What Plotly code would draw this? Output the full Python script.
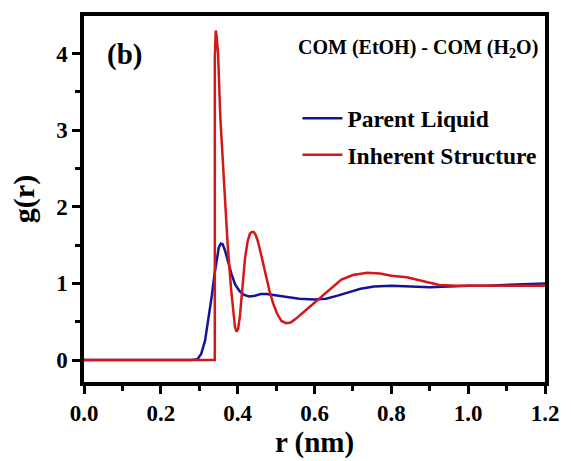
import plotly.graph_objects as go

# Parent liquid g(r)
r_parent = [0.0, 0.28, 0.295, 0.305, 0.315, 0.325, 0.333, 0.340, 0.346, 0.351, 0.356,
            0.361, 0.367, 0.375, 0.384, 0.394, 0.405, 0.417, 0.430, 0.445, 0.46,
            0.475, 0.49, 0.51, 0.53, 0.56, 0.60, 0.63, 0.66, 0.69, 0.72, 0.755,
            0.80, 0.85, 0.90, 0.95, 1.00, 1.05, 1.10, 1.15, 1.20]
g_parent = [0.0, 0.0, 0.01, 0.08, 0.25, 0.55, 0.85, 1.13, 1.35, 1.47, 1.52,
            1.51, 1.43, 1.28, 1.12, 0.98, 0.90, 0.85, 0.83, 0.84, 0.86,
            0.86, 0.85, 0.84, 0.82, 0.80, 0.79, 0.80, 0.84, 0.89, 0.93, 0.96,
            0.97, 0.96, 0.95, 0.96, 0.97, 0.97, 0.98, 0.99, 1.00]

# Inherent structure g(r)
r_inherent = [0.0, 0.3405, 0.3405, 0.3415, 0.343, 0.345, 0.349, 0.355, 0.365, 0.374,
              0.383, 0.389, 0.393, 0.397, 0.401, 0.406, 0.412, 0.419, 0.426, 0.432,
              0.437, 0.442, 0.447, 0.452, 0.459, 0.467, 0.475, 0.483, 0.493, 0.503,
              0.514, 0.526, 0.538, 0.552, 0.575, 0.610, 0.640, 0.670, 0.700, 0.737,
              0.770, 0.800, 0.840, 0.880, 0.925, 0.97, 1.05, 1.12, 1.20]
g_inherent = [0.0, 0.0, 3.95, 4.22, 4.30, 4.24, 4.00, 3.15, 2.32, 1.50,
              0.92, 0.58, 0.43, 0.37, 0.40, 0.58, 0.95, 1.32, 1.55, 1.65,
              1.67, 1.67, 1.63, 1.56, 1.42, 1.24, 1.07, 0.90, 0.73, 0.60,
              0.51, 0.48, 0.49, 0.54, 0.64, 0.79, 0.93, 1.05, 1.11, 1.14,
              1.13, 1.10, 1.08, 1.03, 0.98, 0.97, 0.97, 0.97, 0.97]

BLUE = "#14149a"
RED = "#d41818"
FONT = "Liberation Serif"

fig = go.Figure()
fig.add_trace(go.Scatter(x=r_parent, y=g_parent, mode="lines", name="Parent Liquid",
                         legendgroup="a", line=dict(color=BLUE, width=2.5)))
fig.add_trace(go.Scatter(x=r_inherent, y=g_inherent, mode="lines", name="Inherent Structure",
                         legendgroup="b", line=dict(color=RED, width=2.5)))

axis_common = dict(
    showline=True, linecolor="black", linewidth=3.5, mirror=True,
    ticks="outside", ticklen=8, tickwidth=3, tickcolor="black",
    showgrid=False, zeroline=False,
    tickfont=dict(family=FONT, size=23, color="black", weight="bold"),
)

fig.update_xaxes(
    range=[0, 1.2], tickvals=[0, 0.2, 0.4, 0.6, 0.8, 1.0, 1.2],
    ticktext=["0.0", "0.2", "0.4", "0.6", "0.8", "1.0", "1.2"],
    minor=dict(tickvals=[0.1, 0.3, 0.5, 0.7, 0.9, 1.1], ticks="outside",
               ticklen=5, tickwidth=3, tickcolor="black"),
    title=dict(text="r (nm)", font=dict(family=FONT, size=29, color="black", weight="bold"),
               standoff=2),
    **axis_common,
)
fig.update_yaxes(
    range=[-0.287, 4.49], tickvals=[0, 1, 2, 3, 4],
    minor=dict(tickvals=[0.5, 1.5, 2.5, 3.5], ticks="outside",
               ticklen=5, tickwidth=3, tickcolor="black"),
    title=dict(text="g(r)", font=dict(family=FONT, size=30, color="black", weight="bold"),
               standoff=14),
    **axis_common,
)

fig.add_annotation(x=0.045, y=0.896, xref="paper", yref="paper", xanchor="left", yanchor="middle",
                   text="(b)", showarrow=False,
                   font=dict(family=FONT, size=29, color="black", weight="bold"))
fig.add_annotation(x=0.99, y=0.912, xref="paper", yref="paper", xanchor="right", yanchor="middle",
                   text="COM (EtOH) - COM (H<sub>2</sub>O)", showarrow=False,
                   font=dict(family=FONT, size=20, color="black", weight="bold"))

fig.update_layout(
    width=571, height=461,
    margin=dict(l=84, r=16.5, t=13, b=65),
    paper_bgcolor="white", plot_bgcolor="white",
    showlegend=True,
    legend=dict(x=0.463, y=0.78, xanchor="left", yanchor="top",
                bgcolor="rgba(0,0,0,0)", borderwidth=0,
                traceorder="grouped", tracegroupgap=3, itemwidth=40,
                font=dict(family=FONT, size=23.5, color="black", weight="bold")),
)

fig.write_html("out.html")
